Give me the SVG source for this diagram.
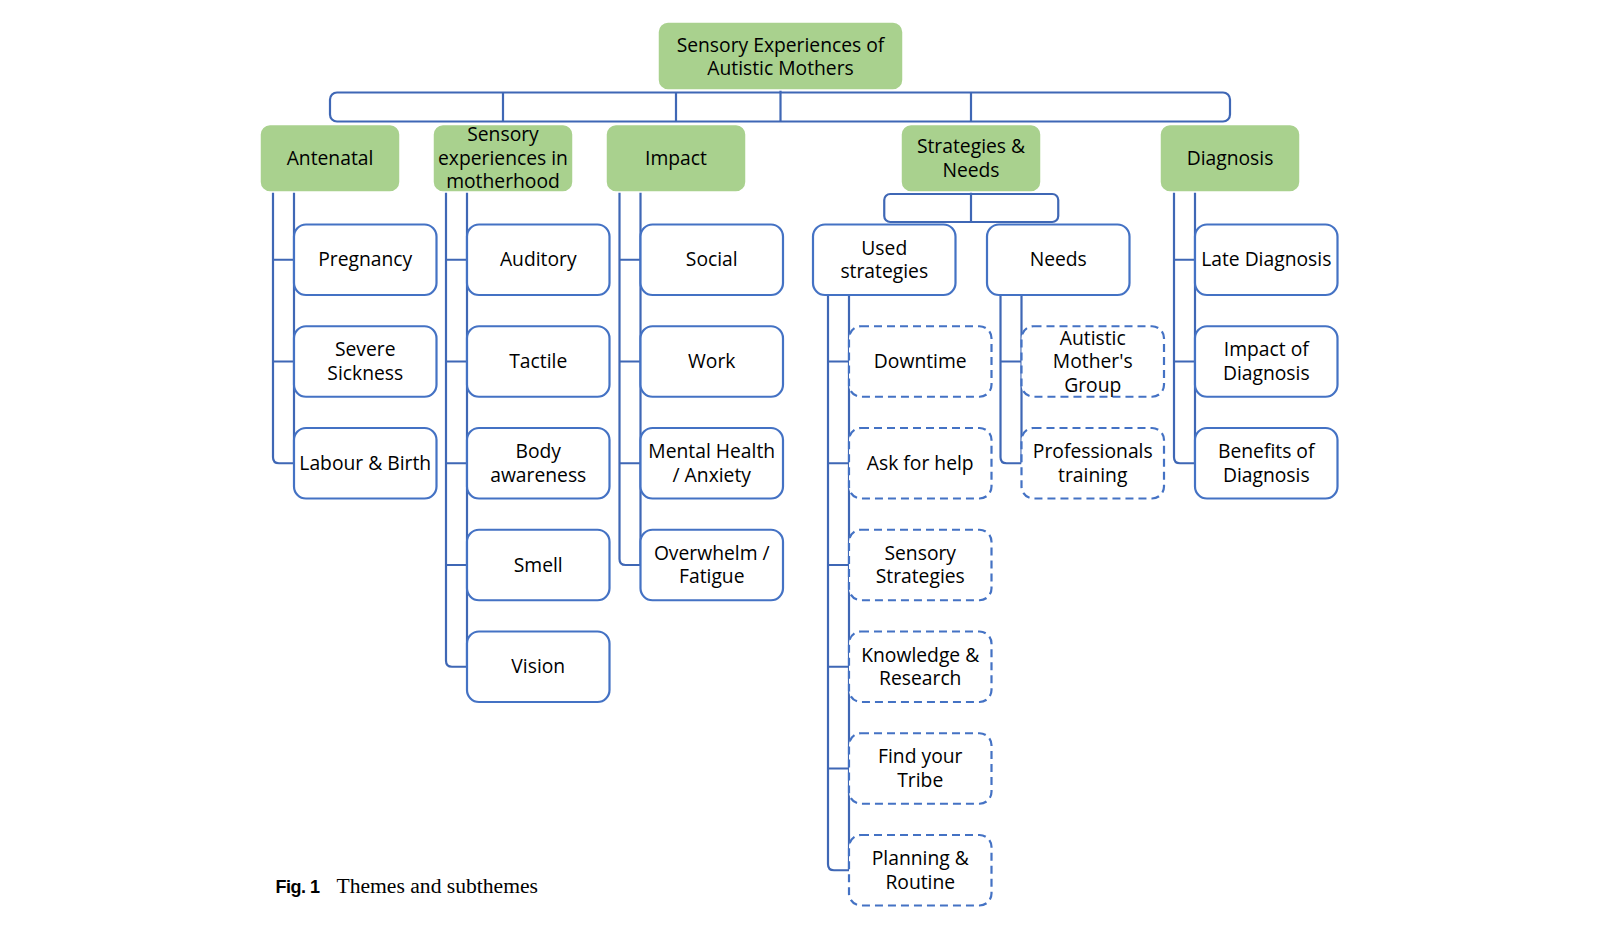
<svg xmlns="http://www.w3.org/2000/svg" width="1600" height="945" viewBox="0 0 1600 945">
<style>
.g{fill:#A9D18E;stroke:#ffffff;stroke-width:1.5}
.l{fill:#ffffff;stroke:#4472C4;stroke-width:2.2}
.d{fill:#ffffff;stroke:#4472C4;stroke-width:2.2;stroke-dasharray:8 5}
.c{fill:none;stroke:#3F67B5;stroke-width:2.2;stroke-linejoin:round}
text{font-family:"Open Sans","Noto Sans","DejaVu Sans",sans-serif;font-size:19.3px;fill:#000;text-anchor:middle}
</style>
<rect width="1600" height="945" fill="#ffffff"/>
<g id="connectors">
<rect class="c" x="330" y="92.5" width="900" height="29" rx="7"/>
<path class="c" d="M503,92.5V121.5M676,92.5V121.5M971,92.5V121.5M780.5,90V121.5"/>
<rect class="c" x="884.25" y="194" width="174" height="28" rx="6"/>
<path class="c" d="M971,192V222"/>
<path class="c" d="M273,192V457.25Q273,463.25 279,463.25H294M294,192V463.25M273,259.75H294M273,361.5H294"/>
<path class="c" d="M446,192V660.75Q446,666.75 452,666.75H467M467,192V666.75M446,259.75H467M446,361.5H467M446,463.25H467M446,565H467"/>
<path class="c" d="M619.5,192V559Q619.5,565 625.5,565H640.5M640.5,192V565M619.5,259.75H640.5M619.5,361.5H640.5M619.5,463.25H640.5"/>
<path class="c" d="M828,295V864.25Q828,870.25 834,870.25H849M849,295V870.25M828,361.5H849M828,463.25H849M828,565H849M828,666.75H849M828,768.5H849"/>
<path class="c" d="M1000.5,295V457.25Q1000.5,463.25 1006.5,463.25H1021.5M1021.5,295V463.25M1000.5,361.5H1021.5"/>
<path class="c" d="M1174,192V457.25Q1174,463.25 1180,463.25H1195M1195,192V463.25M1174,259.75H1195M1174,361.5H1195"/>
</g>
<g id="root"><rect class="g" x="658" y="22" width="245" height="68" rx="10"/><text><tspan x="780.5" y="51.5">Sensory Experiences of</tspan><tspan x="780.5" y="75">Autistic Mothers</tspan></text></g>
<g id="antenatal"><rect class="g" x="260" y="124.5" width="140" height="67.5" rx="10"/><text x="330" y="164.75">Antenatal</text></g>
<g id="sensory"><rect class="g" x="433" y="124.5" width="140" height="67.5" rx="10"/><text><tspan x="503" y="141.25">Sensory</tspan><tspan x="503" y="164.75">experiences in</tspan><tspan x="503" y="188.25">motherhood</tspan></text></g>
<g id="impact"><rect class="g" x="606" y="124.5" width="140" height="67.5" rx="10"/><text x="676" y="164.75">Impact</text></g>
<g id="strategies"><rect class="g" x="901" y="124.5" width="140" height="67.5" rx="10"/><text><tspan x="971" y="153">Strategies &amp;</tspan><tspan x="971" y="176.5">Needs</tspan></text></g>
<g id="diagnosis"><rect class="g" x="1160" y="124.5" width="140" height="67.5" rx="10"/><text x="1230" y="164.75">Diagnosis</text></g>

<g id="pregnancy"><rect class="l" x="294" y="224.5" width="142.5" height="70.5" rx="12"/><text x="365.25" y="266.25">Pregnancy</text></g>
<g id="severe-sickness"><rect class="l" x="294" y="326.25" width="142.5" height="70.5" rx="12"/><text><tspan x="365.25" y="356.25">Severe</tspan><tspan x="365.25" y="379.75">Sickness</tspan></text></g>
<g id="labour-birth"><rect class="l" x="294" y="428" width="142.5" height="70.5" rx="12"/><text x="365.25" y="469.75">Labour &amp; Birth</text></g>

<g id="auditory"><rect class="l" x="467" y="224.5" width="142.5" height="70.5" rx="12"/><text x="538.25" y="266.25">Auditory</text></g>
<g id="tactile"><rect class="l" x="467" y="326.25" width="142.5" height="70.5" rx="12"/><text x="538.25" y="368">Tactile</text></g>
<g id="body-awareness"><rect class="l" x="467" y="428" width="142.5" height="70.5" rx="12"/><text><tspan x="538.25" y="458">Body</tspan><tspan x="538.25" y="481.5">awareness</tspan></text></g>
<g id="smell"><rect class="l" x="467" y="529.75" width="142.5" height="70.5" rx="12"/><text x="538.25" y="571.5">Smell</text></g>
<g id="vision"><rect class="l" x="467" y="631.5" width="142.5" height="70.5" rx="12"/><text x="538.25" y="673.25">Vision</text></g>

<g id="social"><rect class="l" x="640.5" y="224.5" width="142.5" height="70.5" rx="12"/><text x="711.75" y="266.25">Social</text></g>
<g id="work"><rect class="l" x="640.5" y="326.25" width="142.5" height="70.5" rx="12"/><text x="711.75" y="368">Work</text></g>
<g id="mental-health"><rect class="l" x="640.5" y="428" width="142.5" height="70.5" rx="12"/><text><tspan x="711.75" y="458">Mental Health</tspan><tspan x="711.75" y="481.5">/ Anxiety</tspan></text></g>
<g id="overwhelm"><rect class="l" x="640.5" y="529.75" width="142.5" height="70.5" rx="12"/><text><tspan x="711.75" y="559.75">Overwhelm /</tspan><tspan x="711.75" y="583.25">Fatigue</tspan></text></g>

<g id="used-strategies"><rect class="l" x="813" y="224.5" width="142.5" height="70.5" rx="12"/><text><tspan x="884.25" y="254.5">Used</tspan><tspan x="884.25" y="278">strategies</tspan></text></g>
<g id="needs"><rect class="l" x="987" y="224.5" width="142.5" height="70.5" rx="12"/><text x="1058.25" y="266.25">Needs</text></g>

<g id="downtime"><rect class="d" x="849" y="326.25" width="142.5" height="70.5" rx="12"/><text x="920.25" y="368">Downtime</text></g>
<g id="ask-for-help"><rect class="d" x="849" y="428" width="142.5" height="70.5" rx="12"/><text x="920.25" y="469.75">Ask for help</text></g>
<g id="sensory-strategies"><rect class="d" x="849" y="529.75" width="142.5" height="70.5" rx="12"/><text><tspan x="920.25" y="559.75">Sensory</tspan><tspan x="920.25" y="583.25">Strategies</tspan></text></g>
<g id="knowledge"><rect class="d" x="849" y="631.5" width="142.5" height="70.5" rx="12"/><text><tspan x="920.25" y="661.5">Knowledge &amp;</tspan><tspan x="920.25" y="685">Research</tspan></text></g>
<g id="tribe"><rect class="d" x="849" y="733.25" width="142.5" height="70.5" rx="12"/><text><tspan x="920.25" y="763.25">Find your</tspan><tspan x="920.25" y="786.75">Tribe</tspan></text></g>
<g id="planning"><rect class="d" x="849" y="835" width="142.5" height="70.5" rx="12"/><text><tspan x="920.25" y="865">Planning &amp;</tspan><tspan x="920.25" y="888.5">Routine</tspan></text></g>

<g id="mothers-group"><rect class="d" x="1021.5" y="326.25" width="142.5" height="70.5" rx="12"/><text><tspan x="1092.75" y="344.5">Autistic</tspan><tspan x="1092.75" y="368">Mother's</tspan><tspan x="1092.75" y="391.5">Group</tspan></text></g>
<g id="professionals"><rect class="d" x="1021.5" y="428" width="142.5" height="70.5" rx="12"/><text><tspan x="1092.75" y="458">Professionals</tspan><tspan x="1092.75" y="481.5">training</tspan></text></g>

<g id="late-diagnosis"><rect class="l" x="1195" y="224.5" width="142.5" height="70.5" rx="12"/><text x="1266.25" y="266.25">Late Diagnosis</text></g>
<g id="impact-diagnosis"><rect class="l" x="1195" y="326.25" width="142.5" height="70.5" rx="12"/><text><tspan x="1266.25" y="356.25">Impact of</tspan><tspan x="1266.25" y="379.75">Diagnosis</tspan></text></g>
<g id="benefits-diagnosis"><rect class="l" x="1195" y="428" width="142.5" height="70.5" rx="12"/><text><tspan x="1266.25" y="458">Benefits of</tspan><tspan x="1266.25" y="481.5">Diagnosis</tspan></text></g>

<g id="caption">
<text x="275.5" y="893" style="text-anchor:start;font-family:'Liberation Sans',Arial,sans-serif;font-weight:bold;font-size:18px;letter-spacing:-0.5px">Fig. 1</text>
<text x="336.5" y="893" style="text-anchor:start;font-family:'Liberation Serif','Times New Roman',serif;font-size:21.6px">Themes and subthemes</text>
</g>
</svg>
